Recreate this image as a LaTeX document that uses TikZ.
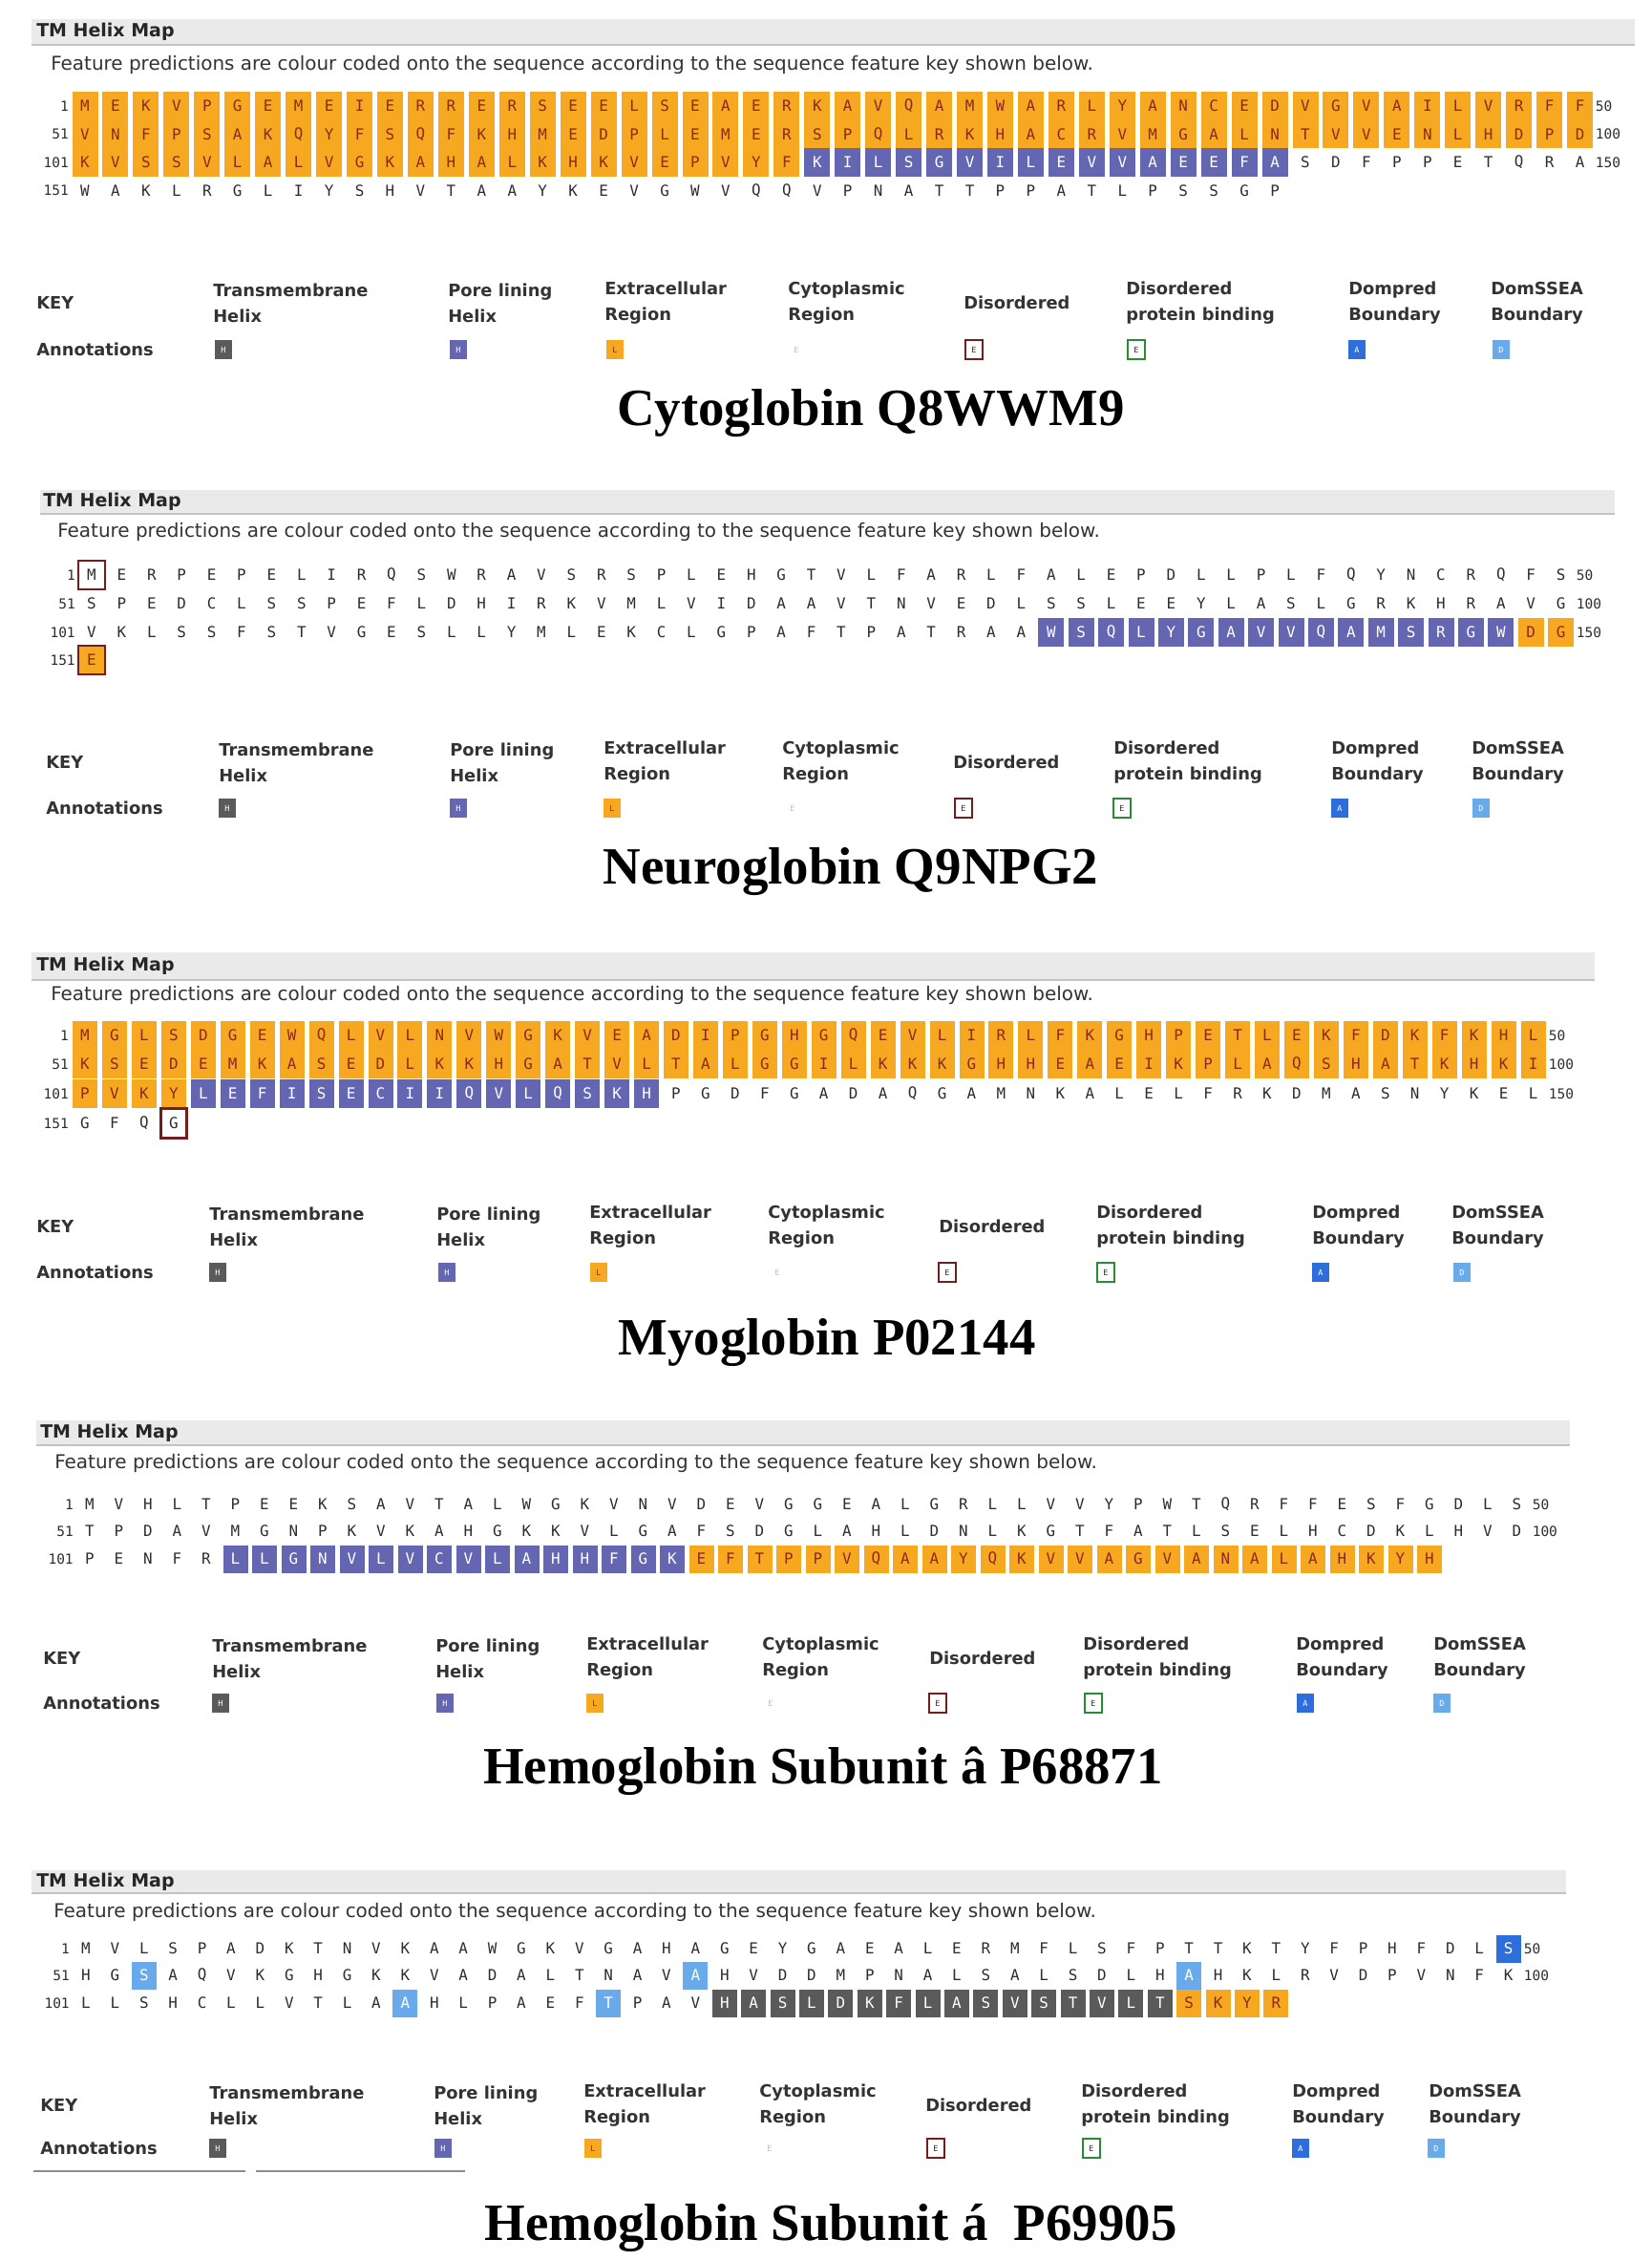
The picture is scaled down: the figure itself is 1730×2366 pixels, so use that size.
\documentclass[tikz,border=0pt]{standalone}
\usepackage{fontspec}
\setmainfont{DejaVu Sans}
\newfontfamily\resfont{DejaVu Sans Mono}
\newfontfamily\ttlfont{Liberation Serif}
\definecolor{orng}{RGB}{246,168,32}
\definecolor{orngtxt}{RGB}{140,40,30}
\definecolor{purp}{RGB}{100,102,178}
\definecolor{tmgrey}{RGB}{90,90,90}
\definecolor{dpblue}{RGB}{45,110,220}
\definecolor{dsblue}{RGB}{105,170,235}
\definecolor{disred}{RGB}{115,30,30}
\definecolor{bindgrn}{RGB}{40,140,50}
\definecolor{plaintxt}{RGB}{45,45,45}
\definecolor{barfill}{RGB}{234,234,234}
\definecolor{barline}{RGB}{195,195,195}

\newcount\rescnt
\def\px{0}\def\pdx{30}\def\curY{0}\def\pn{1}\def\rn{1}\def\pbw{24}\def\pbh{29}
\def\resseg#1#2{\def\resdo##1{\node[res#1] (p\pn r\rn c\the\rescnt) at ({\px+\the\rescnt*\pdx},\curY) {##1};}\resloop#2\relax}
\def\resloop#1{\ifx#1\relax\else\resdo{#1}\global\advance\rescnt by 1 \expandafter\resloop\fi}
\newcommand\resrow[5]{\def\rn{#1}\def\curY{#2}\global\rescnt=0
 \node[rownum,anchor=east] (p\pn r#1a) at ({\px-17},#2) {#3};
 #5
 \ifx\relax#4\relax\else\node[rownum,anchor=west] (p\pn r#1b) at ({\px+49*\pdx+16},#2) {#4};\fi}

\def\klabi{Transmembrane\\Helix}
\def\klabii{Pore lining\\Helix}
\def\klabiii{Extracellular\\Region}
\def\klabiv{Cytoplasmic\\Region}
\def\klabv{Disordered}
\def\klabvi{Disordered\\protein binding}
\def\klabvii{Dompred\\Boundary}
\def\klabviii{DomSSEA\\Boundary}

\newcommand\tmhead[7]{%
 \fill[barfill] (#1,#2) rectangle (#3,#4);
 \draw[barline, line width=0.6mm] (#1,#4) -- (#3,#4);
 \node[headtxt,anchor=west] (p\pn head) at (#5,{(#2+#4)/2}) {TM Helix Map};
 \node[feattxt,anchor=west] (p\pn feat) at (#6,#7) {Feature predictions are colour coded onto the sequence according to the sequence feature key shown below.};}

\newcommand\keyblock[4]{%
 \node[keyhd,anchor=west] (p\pn key) at (#1,#2) {KEY};
 \node[keyhd,anchor=west] (p\pn ann) at (#1,#3) {Annotations};
 \foreach \lx/\sx/\fc/\dc/\tc/\sl [count=\k] in {#4} {
   \node[keyhd,align=left,anchor=west] (p\pn kl\k) at (\lx,#2) {\csname klab\romannumeral\k\endcsname};
   \node[swatch={\fc}{\dc}{\tc}] (p\pn ks\k) at (\sx,#3) {\sl};
 }}

\tikzset{
 rescell/.style={inner sep=0, minimum width=\pbw*0.25mm, minimum height=\pbh*0.25mm, font=\resfont\fontsize{11.3}{12}\selectfont, text=plaintxt},
 reso/.style={rescell, fill=orng, text=orngtxt},
 resp/.style={rescell, fill=purp, text=white},
 resg/.style={rescell, fill=tmgrey, text=white},
 resn/.style={rescell},
 resb/.style={rescell, fill=dpblue, text=white},
 resl/.style={rescell, fill=dsblue, text=white},
 resr/.style={rescell, draw=disred, line width=0.65mm, minimum width=\pbw*0.25mm+0.3mm},
 resq/.style={rescell, fill=orng, text=orngtxt, draw=disred, line width=0.65mm, minimum width=\pbw*0.25mm+0.3mm},
 rownum/.style={inner sep=0, font=\resfont\fontsize{10.3}{11}\selectfont, text=plaintxt},
 headtxt/.style={inner sep=0, font=\bfseries\fontsize{13.5}{15}\selectfont, text=black!85},
 feattxt/.style={inner sep=0, font=\fontsize{14.2}{16}\selectfont, text=black!80},
 keyhd/.style={inner sep=0, font=\bfseries\fontsize{12.7}{19.2}\selectfont, text=black!80},
 swatch/.style n args={3}{inner sep=0, minimum width=4.5mm, minimum height=4.9mm, fill=#1, draw=#2, text=#3, line width=0.5mm, font=\resfont\fontsize{6}{7}\selectfont},
 ttl/.style={inner sep=0, font=\ttlfont\bfseries\fontsize{39}{45}\selectfont, text=black},
 annline/.style={draw=black!45, line width=0.5mm}
}

\begin{document}
\begin{tikzpicture}[x=0.25mm,y=-0.25mm]
\fill[white] (0,0) rectangle (1730,2366);
\useasboundingbox (0,0) rectangle (1730,2366);

% ---------------- Panel 1: Cytoglobin
\def\pn{1}\def\px{89}\def\pdx{31.95}\def\pbw{27}\def\pbh{29.5}
\tmhead{33}{20}{1712}{47}{38}{53}{68}
\resrow{1}{111}{1}{50}{\resseg{o}{MEKVPGEMEIERRERSEELSEAERKAVQAMWARLYANCEDVGVAILVRFF}}
\resrow{2}{140.5}{51}{100}{\resseg{o}{VNFPSAKQYFSQFKHMEDPLEMERSPQLRKHACRVMGALNTVVENLHDPD}}
\resrow{3}{170}{101}{150}{\resseg{o}{KVSSVLALVGKAHALKHKVEPVYF}\resseg{p}{KILSGVILEVVAEEFA}\resseg{n}{SDFPPETQRA}}
\resrow{4}{199.5}{151}{}{\resseg{n}{WAKLRGLIYSHVTAAYKEVGWVQQVPNATTPPATLPSSGP}}
\keyblock{38}{317}{366}{223/234/tmgrey/none/white/H, 469/480/purp/none/white/H, 633/644/orng/none/orngtxt/L, 825/834/none/none/gray!50/E, 1009/1020/white/disred/plaintxt/E, 1179/1190/white/bindgrn/plaintxt/E, 1412/1421/dpblue/none/white/A, 1561/1572/dsblue/none/white/D}
\node[ttl] (p1title) at (912,433) {Cytoglobin Q8WWM9};

% ---------------- Panel 2: Neuroglobin
\def\pn{2}\def\px{96}\def\pdx{31.4}\def\pbw{27}\def\pbh{30}
\tmhead{42}{513}{1691}{538}{45}{60}{557}
\resrow{1}{602}{1}{50}{\resseg{r}{M}\resseg{n}{ERPEPELIRQSWRAVSRSPLEHGTVLFARLFALEPDLLPLFQYNCRQFS}}
\resrow{2}{632}{51}{100}{\resseg{n}{SPEDCLSSPEFLDHIRKVMLVIDAAVTNVEDLSSLEEYLASLGRKHRAVG}}
\resrow{3}{662}{101}{150}{\resseg{n}{VKLSSFSTVGESLLYMLEKCLGPAFTPATRAA}\resseg{p}{WSQLYGAVVQAMSRGW}\resseg{o}{DG}}
\resrow{4}{691}{151}{}{\resseg{q}{E}}
\keyblock{48}{798}{846}{229/238/tmgrey/none/white/H, 471/480/purp/none/white/H, 632/641/orng/none/orngtxt/L, 819/830/none/none/gray!50/E, 998/1009/white/disred/plaintxt/E, 1166/1175/white/bindgrn/plaintxt/E, 1394/1403/dpblue/none/white/A, 1541/1551/dsblue/none/white/D}
\node[ttl] (p2title) at (891,913) {Neuroglobin Q9NPG2};

% ---------------- Panel 3: Myoglobin
\def\pn{3}\def\px{89}\def\pdx{30.95}\def\pbw{26}\def\pbh{30.5}
\tmhead{33}{997}{1670}{1026}{38}{53}{1042}
\resrow{1}{1084}{1}{50}{\resseg{o}{MGLSDGEWQLVLNVWGKVEADIPGHGQEVLIRLFKGHPETLEKFDKFKHL}}
\resrow{2}{1114}{51}{100}{\resseg{o}{KSEDEMKASEDLKKHGATVLTALGGILKKKGHHEAEIKPLAQSHATKHKI}}
\resrow{3}{1145}{101}{150}{\resseg{o}{PVKY}\resseg{p}{LEFISECIIQVLQSKH}\resseg{n}{PGDFGADAQGAMNKALELFRKDMASNYKEL}}
\resrow{4}{1176}{151}{}{\resseg{n}{GFQ}\resseg{r}{G}}
\keyblock{38}{1284}{1332}{219/228/tmgrey/none/white/H, 457/468/purp/none/white/H, 617/627/orng/none/orngtxt/L, 804/814/none/none/gray!50/E, 983/992/white/disred/plaintxt/E, 1148/1158/white/bindgrn/plaintxt/E, 1374/1383/dpblue/none/white/A, 1520/1531/dsblue/none/white/D}
\node[ttl] (p3title) at (866,1406) {Myoglobin P02144};

% ---------------- Panel 4: Hemoglobin beta
\def\pn{4}\def\px{94}\def\pdx{30.5}\def\pbw{26}\def\pbh{29}
\tmhead{38}{1487}{1644}{1513}{42}{57}{1532}
\resrow{1}{1575}{1}{50}{\resseg{n}{MVHLTPEEKSAVTALWGKVNVDEVGGEALGRLLVVYPWTQRFFESFGDLS}}
\resrow{2}{1603}{51}{100}{\resseg{n}{TPDAVMGNPKVKAHGKKVLGAFSDGLAHLDNLKGTFATLSELHCDKLHVD}}
\resrow{3}{1632}{101}{}{\resseg{n}{PENFR}\resseg{p}{LLGNVLVCVLAHHFGK}\resseg{o}{EFTPPVQAAYQKVVAGVANALAHKYH}}
\keyblock{45}{1736}{1783}{222/231/tmgrey/none/white/H, 456/466/purp/none/white/H, 614/623/orng/none/orngtxt/L, 798/807/none/none/gray!50/E, 973/982/white/disred/plaintxt/E, 1134/1145/white/bindgrn/plaintxt/E, 1357/1367/dpblue/none/white/A, 1501/1510/dsblue/none/white/D}
\node[ttl] (p4title) at (862,1854) {Hemoglobin Subunit â P68871};

% ---------------- Panel 5: Hemoglobin alpha
\def\pn{5}\def\px{90}\def\pdx{30.4}\def\pbw{26}\def\pbh{29}
\tmhead{33}{1958}{1640}{1982}{38}{56}{2002}
\resrow{1}{2040}{1}{50}{\resseg{n}{MVLSPADKTNVKAAWGKVGAHAGEYGAEALERMFLSFPTTKTYFPHFDL}\resseg{b}{S}}
\resrow{2}{2068}{51}{100}{\resseg{n}{HG}\resseg{l}{S}\resseg{n}{AQVKGHGKKVADALTNAV}\resseg{l}{A}\resseg{n}{HVDDMPNALSALSDLH}\resseg{l}{A}\resseg{n}{HKLRVDPVNFK}}
\resrow{3}{2097}{101}{}{\resseg{n}{LLSHCLLVTLA}\resseg{l}{A}\resseg{n}{HLPAEF}\resseg{l}{T}\resseg{n}{PAV}\resseg{g}{HASLDKFLASVSTVLT}\resseg{o}{SKYR}}
\keyblock{42}{2204}{2249}{219/228/tmgrey/none/white/H, 454/464/purp/none/white/H, 611/621/orng/none/orngtxt/L, 795/806/none/none/gray!50/E, 969/980/white/disred/plaintxt/E, 1132/1143/white/bindgrn/plaintxt/E, 1353/1362/dpblue/none/white/A, 1496/1504/dsblue/none/white/D}
\draw[annline] (35,2273) -- (257,2273);
\draw[annline] (268,2273) -- (487,2273);
\node[ttl] (p5title) at (870,2332) {Hemoglobin Subunit á\ \ P69905};
\end{tikzpicture}
\end{document}
